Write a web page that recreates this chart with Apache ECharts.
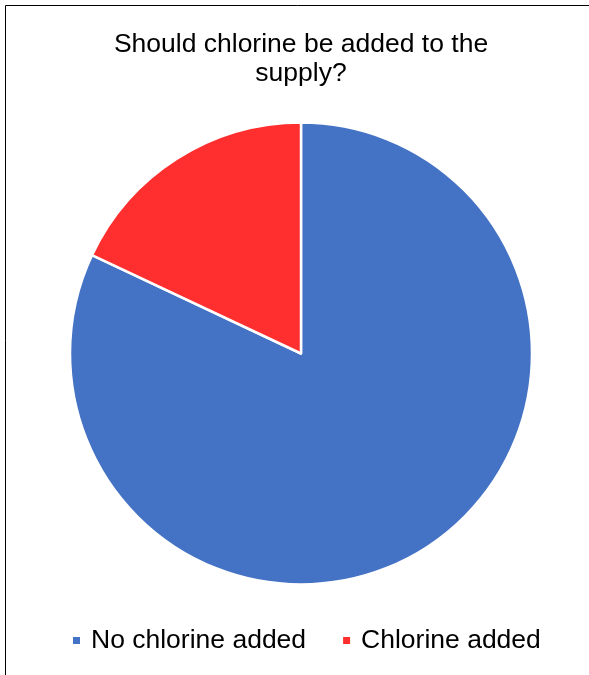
<!DOCTYPE html>
<html>
<head>
<meta charset="utf-8">
<script src="https://cdn.jsdelivr.net/npm/echarts@6/dist/echarts.min.js"></script>
<style>html,body{margin:0;padding:0;background:#fff;}#c{width:589px;height:675px;}</style>
</head>
<body>
<div id="c"></div>
<script>
const categories = ["No chlorine added", "Chlorine added"];
const values = [82, 18];
const colors = ["#4472C4", "#FF2F2F"];

const chart = echarts.init(document.getElementById('c'));
chart.setOption({
  backgroundColor: '#fff',
  animation: false,
  title: {
    text: 'Should chlorine be added to the\nsupply?',
    left: 296,
    top: 25,
    textAlign: 'center',
    textStyle: { fontFamily: 'Liberation Sans, Arial', fontSize: 26.5, fontWeight: 'normal', color: '#000', lineHeight: 29 }
  },
  legend: {
    top: 627,
    left: 71,
    padding: 0,
    itemWidth: 9,
    itemHeight: 9,
    itemGap: 35,
    icon: 'rect',
    textStyle: { fontFamily: 'Liberation Sans, Arial', fontSize: 26.5, color: '#000', padding: [0, 0, 0, 5] },
    data: categories
  },
  graphic: [{
    type: 'rect',
    shape: { x: 5.5, y: 5.5, width: 700, height: 800 },
    style: { fill: 'none', stroke: '#000', lineWidth: 1 },
    silent: true
  }],
  series: [{
    type: 'pie',
    center: [301, 353.5],
    radius: [0, 231],
    startAngle: 90,
    clockwise: true,
    label: { show: false },
    labelLine: { show: false },
    itemStyle: { borderColor: '#fff', borderWidth: 2.5 },
    data: categories.map((c, i) => ({ name: c, value: values[i], itemStyle: { color: colors[i] } }))
  }]
});
</script>
</body>
</html>
